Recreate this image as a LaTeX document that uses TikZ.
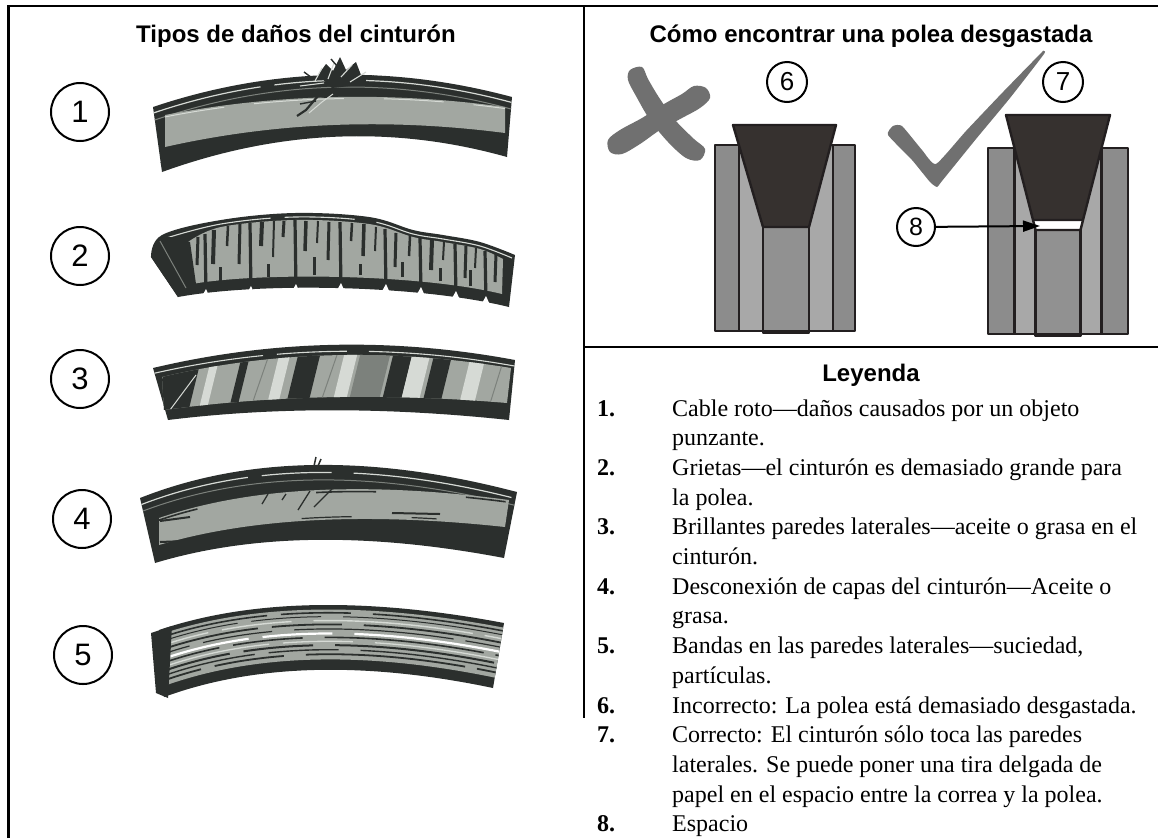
\documentclass[tikz,border=0pt]{standalone}
\usepackage{fontspec}
\setmainfont{Liberation Serif}
\newfontfamily\labelsans{Liberation Sans}
\usetikzlibrary{arrows.meta,calc}

\definecolor{beltdark}{HTML}{2B2F2D}
\definecolor{beltface}{HTML}{A2A7A1}
\definecolor{beltmid}{HTML}{7C817C}
\definecolor{beltlight}{HTML}{D6DAD5}
\definecolor{wallgray}{HTML}{8C8C8C}
\definecolor{groovegray}{HTML}{A8A8A8}
\definecolor{hubgray}{HTML}{919191}
\definecolor{vbeltfill}{HTML}{36312F}
\definecolor{inkline}{HTML}{231F20}
\definecolor{markgray}{HTML}{707070}

% A band across a belt: the curve lying the given fraction of the way
% from the top edge (..tl ..ta ..tb ..tr) to the bottom edge (..bl ..ba ..bb ..br).
\newcommand\beltband[2]{($(#1tl)!#2!(#1bl)$) .. controls ($(#1ta)!#2!(#1ba)$) and ($(#1tb)!#2!(#1bb)$) .. ($(#1tr)!#2!(#1br)$)}
\newcommand\beltbandback[2]{-- ($(#1tr)!#2!(#1br)$) .. controls ($(#1tb)!#2!(#1bb)$) and ($(#1ta)!#2!(#1ba)$) .. ($(#1tl)!#2!(#1bl)$)}
\newcommand\beltedges[9]{%
  \coordinate (#1tl) at (#2); \coordinate (#1ta) at (#3);
  \coordinate (#1tb) at (#4); \coordinate (#1tr) at (#5);
  \coordinate (#1bl) at (#6); \coordinate (#1ba) at (#7);
  \coordinate (#1bb) at (#8); \coordinate (#1br) at (#9);}

\begin{document}
\begin{tikzpicture}[x=1pt,y=-1pt,
  numcircle/.style={circle,draw,line width=2pt,minimum size=58pt,inner sep=0pt,
    font=\labelsans\fontsize{31}{31}\selectfont},
  smallcircle/.style={circle,draw,line width=2pt,minimum size=40pt,inner sep=0pt,
    font=\labelsans\fontsize{26}{26}\selectfont},
  heading/.style={font=\labelsans\bfseries\fontsize{24}{28}\selectfont,inner sep=0pt,anchor=base},
  legnum/.style={font=\bfseries\fontsize{24}{29.7}\selectfont,inner sep=0pt,anchor=base west},
  legtext/.style={font=\fontsize{24}{29.7}\selectfont,inner sep=0pt,anchor=base west},
  pulleyline/.style={draw=inkline,line width=2.4pt,line join=round},
  streak/.style={dash pattern=on 110pt off 14pt on 70pt off 22pt on 160pt off 12pt}
]
\useasboundingbox (0,0) rectangle (1158,838);
\fill[white] (0,0) rectangle (1158,838);

% ---------------- frame and dividers ----------------
\draw[line width=3pt] (8.5,838) -- (8.5,5.7);
\draw[line width=2.3pt] (7,5.7) -- (1158,5.7);
\draw[line width=1.3pt] (584,6) -- (584,718);
\draw[line width=1.3pt] (584,347) -- (1158,347);

% ---------------- headings ----------------
\node[heading] (titleA) at (296,42) {Tipos de daños del cinturón};
\node[heading] (titleB) at (871,42) {Cómo encontrar una polea desgastada};
\node[heading] (legendtitle) at (871,381) {Leyenda};

% ---------------- belt 1: broken cord ----------------
\beltedges{b1}{153,107}{269,68}{389,64}{512,97}{162,172}{278,130}{393,125}{507,157}
\beltedges{f1}{165,115}{274,94}{388,91}{505,107}{165,147}{276,122}{389,118}{505,133}
\fill[beltdark] \beltband{b1}{0} \beltbandback{b1}{1} -- cycle;
\draw[beltlight,line width=1.2,streak] \beltband{b1}{0.09};
\draw[beltmid,line width=1] \beltband{b1}{0.2};
\fill[beltface] \beltband{f1}{0} \beltbandback{f1}{1} -- cycle;
\draw[beltlight,line width=1,dash pattern=on 60pt off 30pt on 90pt off 40pt] \beltband{f1}{0.06};
\draw[beltdark,line width=1.4,dash pattern=on 20pt off 50pt on 30pt off 80pt] \beltband{b1}{0.86};
% torn cords sticking out of the top
\fill[beltdark] (318,75) -- (326,64) -- (333,71) -- (340,57) -- (346,70) -- (356,62) -- (361,75) -- (350,86) -- (332,88) -- cycle;
\draw[beltlight,line width=1.1] (315,81) -- (322,68) (328,79) -- (334,63) (341,77) -- (352,65) (350,82) -- (366,72) (300,86) -- (324,83);
\draw[beltdark,line width=1.4] (312,78) -- (304,72) (362,79) -- (374,76) (337,66) -- (331,59);
% crack running into the side wall
\draw[beltdark,line width=2.2] (338,90) -- (327,97) -- (318,96) -- (306,110) -- (297,116);
\draw[beltlight,line width=1] (333,94) -- (322,102) -- (309,113);
\draw[beltdark,line width=1.4] (316,101) -- (300,104);

% ---------------- belt 2: cracks ----------------
\fill[beltdark] plot[smooth,tension=0.6] coordinates {(151,257) (162,235) (221,220) (295,213) (369,217) (413,230) (443,235) (480,242) (515,255)}
  -- (509,307) .. controls (420,285) and (260,282) .. (178,297) -- cycle;
\draw[beltlight,line width=1.1,streak] plot[smooth,tension=0.6] coordinates {(163,239) (221,224) (295,217) (369,221) (413,234) (443,239) (480,246) (512,258)};
\fill[beltface] plot[smooth,tension=0.6] coordinates {(188,242) (221,227) (295,220) (369,224) (413,237) (443,242) (480,249) (503,259)}
  -- (502,294) .. controls (420,274) and (260,272) .. (192,284) -- cycle;
% full-height cracks
\foreach \x/\t/\b in {205/234/294, 250/223/291, 295/220/289, 340/222/288, 385/229/289, 420/238/292, 455/244/296, 485/251/301}
  \draw[beltdark,line width=3.2] (\x,\t) -- (\x+1,\b);
% shorter cracks from the top and from the bottom
\foreach \x/\t/\l/\w in {198/237/28/3, 214/230/34/4, 228/226/20/2.5, 240/224/40/3, 262/222/24/4, 274/221/36/2, 284/221/16/3, 306/221/30/3.5, 318/221/22/2, 329/222/38/3, 352/223/18/2.5, 364/224/32/3.5, 376/227/24/2, 396/233/34/3, 410/236/20/2.5, 432/240/30/4, 444/242/18/2, 466/246/32/3, 476/248/20/2, 496/254/28/3}
  \draw[beltdark,line width=\w] (\x,\t) -- (\x-1,\t+\l);
\foreach \x/\b/\l in {220/283/16, 268/277/13, 314/275/18, 360/275/11, 402/277/15, 440/281/13, 470/286/16}
  \draw[beltdark,line width=3] (\x,\b) -- (\x,\b-\l);
% dark left end
\fill[beltdark] (151,257) -- (162,235) -- (190,242) -- (196,284) -- (178,297) -- cycle;
\draw[beltmid,line width=1] (160,241) -- (186,288);
% split teeth along the underside
\foreach \x/\y in {205/294, 250/291, 295/289, 340/288, 385/289, 420/292, 455/296, 485/301}
  \fill[white] (\x-4,\y+4) -- (\x+5,\y+4) -- (\x+1,\y-5) -- cycle;

% ---------------- belt 3: glazed side wall ----------------
\beltedges{b3}{153,368}{271,340}{392,337}{515,360}{168,420}{273,407}{387,407}{509,420}
\beltedges{f3}{162,377}{272,351}{389,348}{511,368}{164,410}{274,395}{388,393}{507,403}
\fill[beltdark] \beltband{b3}{0} \beltbandback{b3}{1} -- cycle;
\draw[beltlight,line width=1.1,streak] \beltband{b3}{0.1};
\begin{scope}
  \clip \beltband{f3}{0} \beltbandback{f3}{1} -- cycle;
  \fill[beltface] (150,330) rectangle (520,430);
  \foreach \a/\b/\c in {162/196/beltdark, 236/244/beltdark, 292/314/beltdark, 354/384/beltmid, 387/406/beltdark, 428/446/beltdark,
                        273/284/beltlight, 338/351/beltlight, 406/424/beltlight, 465/480/beltlight, 206/214/beltlight}
    \fill[\c] (\a-11,425) -- (\b-11,425) -- (\b+11,335) -- (\a+11,335) -- cycle;
  \draw[beltlight,line width=1] (170,410) -- (196,375);
  \draw[beltmid,line width=1] (250,410) -- (270,352) (318,410) -- (338,352) (488,410) -- (506,352);
\end{scope}

% ---------------- belt 4: separated plies ----------------
\beltedges{b4}{140,498}{246,456}{372,454}{517,492}{155,563}{251,534}{367,532}{504,558}
\beltedges{f4}{159,518}{249,487}{366,481}{509,500}{159,545}{250,518}{366,512}{505,527}
\fill[beltdark] \beltband{b4}{0} \beltbandback{b4}{1} -- cycle;
\draw[beltlight,line width=1.2,streak] \beltband{b4}{0.1};
\draw[beltmid,line width=1] \beltband{b4}{0.2};
\fill[beltface] \beltband{f4}{0} \beltbandback{f4}{1} -- cycle;
\draw[beltdark,line width=1.6,dash pattern=on 40pt off 120pt on 60pt off 90pt] \beltband{f4}{0.08};
\draw[beltdark,line width=1.2,dash pattern=on 25pt off 150pt on 50pt off 60pt,dash phase=30pt] \beltband{f4}{0.92};
% small tear on the top and scratches on the side wall
\draw[beltdark,line width=1.5] (314,466) -- (316,457) (318,466) -- (321,459);
\draw[beltdark,line width=1.3] (310,491) -- (298,510) (268,494) -- (262,504) (332,489) -- (314,507) (286,494) -- (282,500);
\draw[beltdark,line width=2] (160,521) -- (190,517) (392,513) -- (440,514) (160,542) -- (185,541);

% ---------------- belt 5: banded side wall ----------------
\beltedges{b5}{159,630}{251,599}{366,597}{504,623}{164,697}{254,664}{364,661}{493,688}
\fill[beltdark] \beltband{b5}{0} \beltbandback{b5}{1} -- cycle;
\fill[beltface] \beltband{b5}{0.07} \beltbandback{b5}{0.84} -- cycle;
\foreach \f/\col/\w/\ph in {0.12/beltdark/1.6/0, 0.18/beltdark/1.0/30, 0.24/beltlight/1.4/60,
    0.30/beltdark/1.8/10, 0.37/beltdark/1.2/80, 0.44/white/2.2/20, 0.50/beltdark/1.6/50,
    0.56/beltlight/1.3/0, 0.62/beltdark/2.0/40, 0.69/beltdark/1.4/15, 0.76/beltdark/1.8/70}
  \draw[\col,line width=\w,streak,dash phase=\ph] \beltband{b5}{\f};
\fill[beltdark] (151,633) -- (172,626) -- (168,698) -- (156,693) -- cycle;

% ---------------- damage numbers ----------------
\node[numcircle] (num1) at (80,112) {1};
\node[numcircle] (num2) at (80,256) {2};
\node[numcircle] (num3) at (80,379) {3};
\node[numcircle] (num4) at (82,519) {4};
\node[numcircle] (num5) at (83,655) {5};

% ---------------- wrong pulley: worn groove ----------------
\fill[markgray] plot[smooth cycle,tension=0.55] coordinates {(630,70) (642,67) (648,79) (660,99) (676,121) (694,139) (705,149) (700,160) (686,158) (668,142) (650,120) (636,96) (628,80)};
\fill[markgray] plot[smooth cycle,tension=0.55] coordinates {(694,86) (706,88) (710,98) (700,108) (682,118) (660,130) (640,144) (622,154) (610,152) (608,140) (620,130) (642,118) (664,104) (682,94)};
\fill[wallgray] (715,145) rectangle (855,331);
\fill[groovegray] (739,145) rectangle (833,331);
\fill[hubgray] (763,227) rectangle (809,333);
\draw[pulleyline] (715,145) rectangle (855,331);
\draw[pulleyline] (739,145) -- (739,331) (833,145) -- (833,331);
\draw[pulleyline] (763,227) -- (763,333) -- (809,333) -- (809,227);
\draw[pulleyline,fill=vbeltfill] (733,125) -- (836,125) -- (809,227) -- (763,227) -- cycle;
\node[smallcircle] (num6) at (787,82) {6};

% ---------------- right pulley: belt on the side walls ----------------
\fill[markgray] plot[smooth cycle,tension=0.3] coordinates {(888,135) (912,160) (930,182) (937,187) (942,181) (976,139) (1010,98) (1044,54) (1043,51) (1042,52) (1003,92) (966,131) (936,164) (922,150) (902,126) (893,126)};
\fill[wallgray] (988,148) rectangle (1128,334);
\fill[groovegray] (1014.5,148) rectangle (1101.5,334);
\fill[white] (1033,220) -- (1083,220) -- (1080.5,230) -- (1035.5,230) -- cycle;
\fill[hubgray] (1035.5,230) rectangle (1080.5,336);
\draw[pulleyline] (988,148) rectangle (1128,334);
\draw[pulleyline] (1014.5,148) -- (1014.5,334) (1101.5,148) -- (1101.5,334);
\draw[pulleyline] (1033,220) -- (1035.5,230) -- (1080.5,230) -- (1083,220);
\draw[pulleyline] (1035.5,230) -- (1035.5,336) -- (1080.5,336) -- (1080.5,230);
\draw[pulleyline,fill=vbeltfill] (1006,115) -- (1110,115) -- (1083,220) -- (1033,220) -- cycle;
\node[smallcircle] (num7) at (1063,82) {7};
\node[smallcircle,minimum size=38pt,font=\labelsans\fontsize{25}{25}\selectfont] (num8) at (916,227) {8};
\coordinate (gaptip) at (1040,226);
\draw[line width=2pt,-{Triangle[length=17pt,width=11pt]}] (num8) -- (gaptip);

% ---------------- legend ----------------
\node[legnum] (k1) at (597,416.0) {1.};
\node[legtext] (k1a) at (672,416.0) {Cable roto—daños causados por un objeto};
\node[legtext] (k1b) at (672,445.7) {punzante.};
\node[legnum] (k2) at (597,475.4) {2.};
\node[legtext] (k2a) at (672,475.4) {Grietas—el cinturón es demasiado grande para};
\node[legtext] (k2b) at (672,505.1) {la polea.};
\node[legnum] (k3) at (597,534.8) {3.};
\node[legtext] (k3a) at (672,534.8) {Brillantes paredes laterales—aceite o grasa en el};
\node[legtext] (k3b) at (672,564.5) {cinturón.};
\node[legnum] (k4) at (597,594.2) {4.};
\node[legtext] (k4a) at (672,594.2) {Desconexión de capas del cinturón—Aceite o};
\node[legtext] (k4b) at (672,623.9) {grasa.};
\node[legnum] (k5) at (597,653.6) {5.};
\node[legtext] (k5a) at (672,653.6) {Bandas en las paredes laterales—suciedad,};
\node[legtext] (k5b) at (672,683.3) {partículas.};
\node[legnum] (k6) at (597,713.0) {6.};
\node[legtext] (k6a) at (672,713.0) {Incorrecto: La polea está demasiado desgastada.};
\node[legnum] (k7) at (597,742.7) {7.};
\node[legtext] (k7a) at (672,742.7) {Correcto: El cinturón sólo toca las paredes};
\node[legtext] (k7b) at (672,772.4) {laterales. Se puede poner una tira delgada de};
\node[legtext] (k7c) at (672,802.1) {papel en el espacio entre la correa y la polea.};
\node[legnum] (k8) at (597,831.8) {8.};
\node[legtext] (k8a) at (672,831.8) {Espacio};
\end{tikzpicture}
\end{document}
